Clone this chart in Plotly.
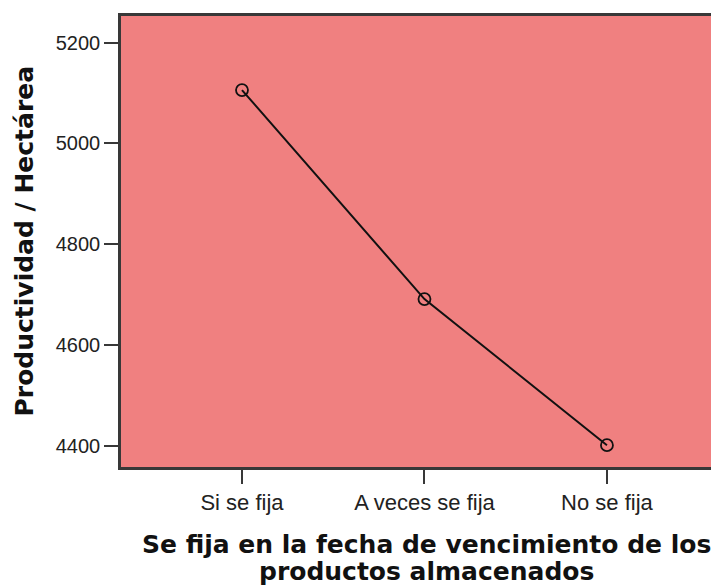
import plotly.graph_objects as go

categories = ["Si se fija", "A veces se fija", "No se fija"]
values = [5106, 4691, 4401]
y_ticks = [4400, 4600, 4800, 5000, 5200]

fig = go.Figure()
fig.add_trace(go.Scatter(
    x=categories, y=values, mode="lines+markers",
    line=dict(color="#111111", width=2),
    marker=dict(symbol="circle-open", size=12, color="#111111", line=dict(width=1.8, color="#111111")),
    showlegend=False, hoverinfo="skip"))

title_font = dict(size=25, family="DejaVu Sans", color="#111111", weight="bold")
xtick_font = dict(size=22, family="Liberation Sans, Arial", color="#222222")
ytick_font = dict(size=20, family="Liberation Sans, Arial", color="#222222")

# page body has an 8px default margin; figure sized so the plot lands where the reference has it
fig.update_layout(
    width=711, height=577,
    margin=dict(l=113, r=0, t=8, b=118, autoexpand=False),
    paper_bgcolor="white", plot_bgcolor="#F08080",
    font=dict(family="Liberation Sans, Arial", color="#222222"),
    xaxis=dict(type="category", range=[-0.663, 2.614], showgrid=False, zeroline=False,
               automargin=False,
               showline=True, linecolor="#383838", linewidth=2.5, mirror=True,
               ticks="outside", ticklen=14, tickwidth=2, tickcolor="#383838",
               tickfont=xtick_font),
    yaxis=dict(range=[4357.7, 5253], showgrid=False, zeroline=False,
               automargin=False,
               showline=True, linecolor="#383838", linewidth=2.5, mirror=False,
               tickvals=y_ticks, ticktext=[str(v) for v in y_ticks],
               ticks="outside", ticklen=14, tickwidth=2, tickcolor="#383838",
               tickfont=ytick_font),
    annotations=[
        dict(text="Productividad / Hectárea", xref="paper", yref="paper",
             x=-0.1622, y=0.5, xanchor="center", yanchor="middle", textangle=-90,
             showarrow=False, font=title_font),
        dict(text="Se fija en la fecha de vencimiento de los", xref="paper", yref="paper",
             x=0.511, y=(467 - 544) / 451, xanchor="center", yanchor="middle", showarrow=False,
             font=title_font),
        dict(text="productos almacenados", xref="paper", yref="paper",
             x=0.511, y=(467 - 571) / 451, xanchor="center", yanchor="middle", showarrow=False,
             font=title_font),
    ],
)

fig.write_html("out.html")
